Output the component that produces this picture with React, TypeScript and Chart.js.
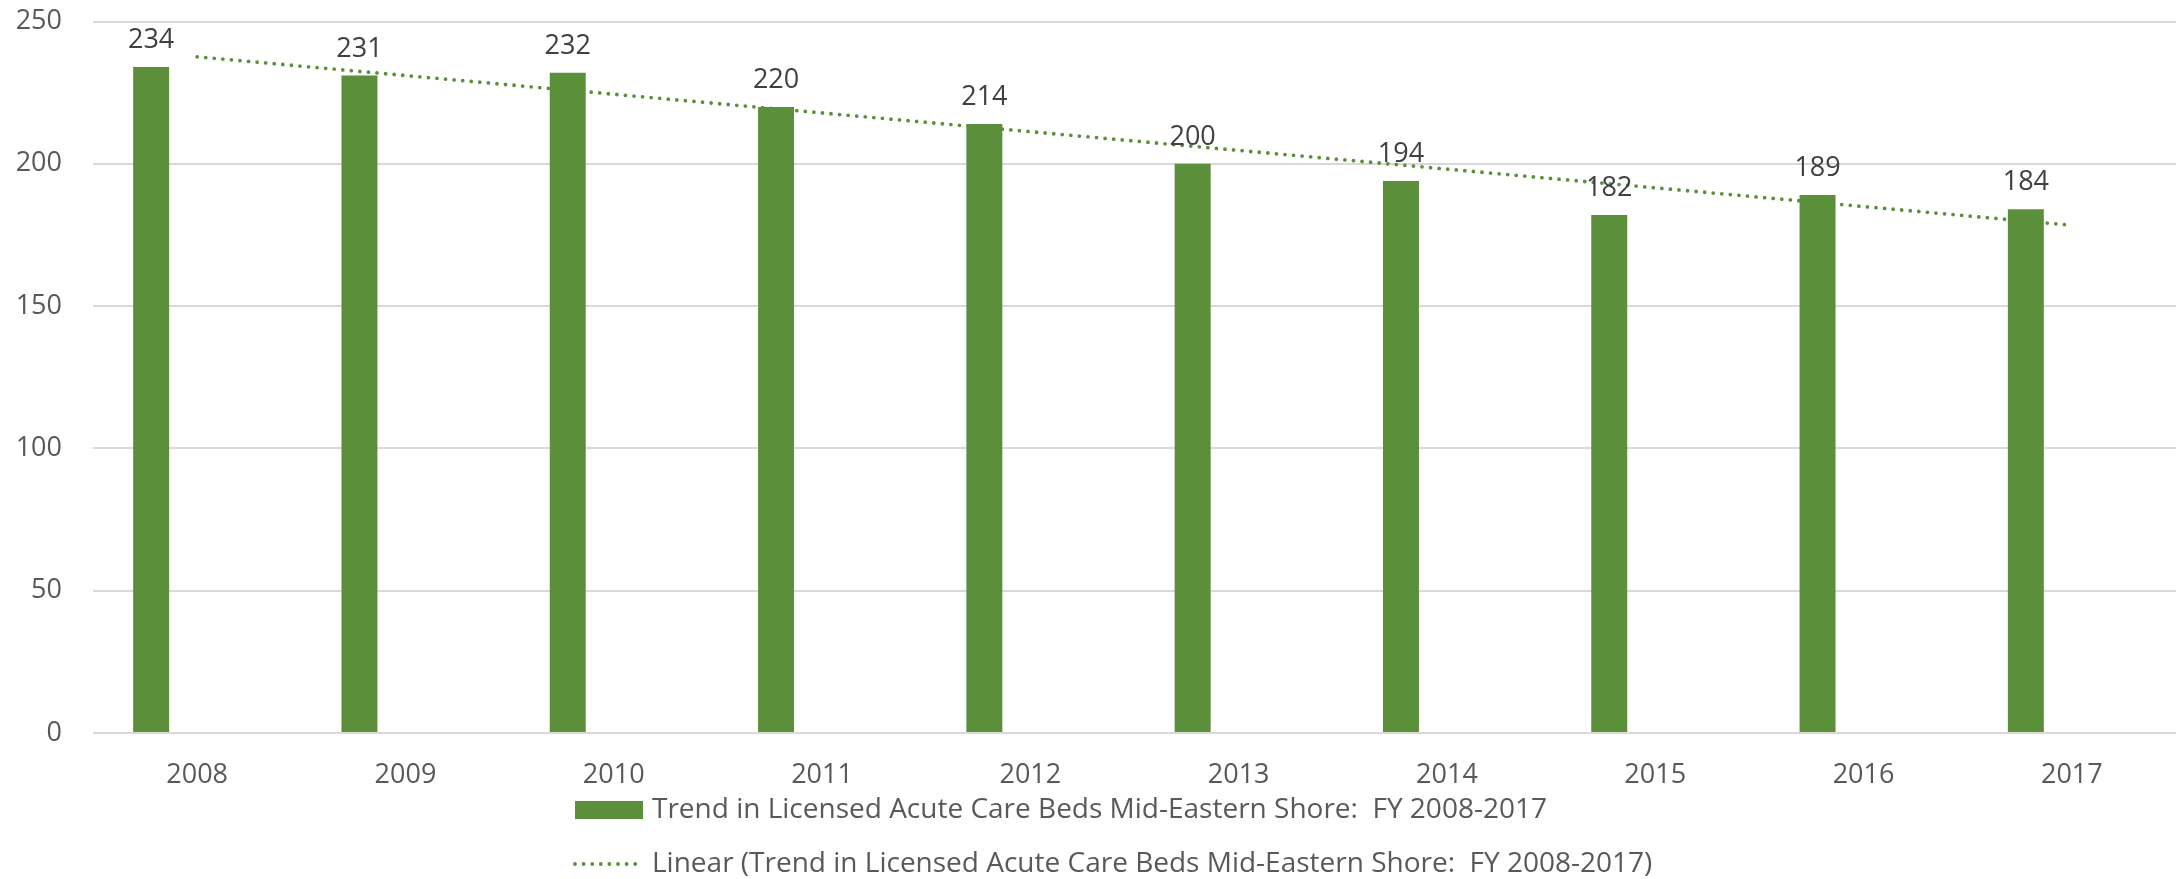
import React, { useEffect, useRef } from "react";
import { Chart, registerables } from "chart.js";

Chart.register(...registerables);

const categories = ["2008", "2009", "2010", "2011", "2012", "2013", "2014", "2015", "2016", "2017"];
const bedCounts = [234, 231, 232, 220, 214, 200, 194, 182, 189, 184];
// Linear trendline end values (first and last year)
const trendEnds = [237.6, 178.4];
const yTickValues = [0, 50, 100, 150, 200, 250];
const barLabel = "Trend in Licensed Acute Care Beds Mid-Eastern Shore:  FY 2008-2017";
const trendLabel = "Linear (Trend in Licensed Acute Care Beds Mid-Eastern Shore:  FY 2008-2017)";

const GREEN = "#5b8f3a";
const FONT = "'Open Sans', 'Noto Sans', sans-serif";

const trendData = categories.map((_, i) =>
  i === 0 ? trendEnds[0] : i === categories.length - 1 ? trendEnds[1] : null
);

const dataLabelPlugin = {
  id: "dataLabels",
  afterDatasetsDraw(chart: any) {
    const ctx = chart.ctx;
    const meta = chart.getDatasetMeta(0);
    ctx.save();
    ctx.font = `27px ${FONT}`;
    ctx.fillStyle = "#404040";
    ctx.textAlign = "center";
    ctx.textBaseline = "alphabetic";
    meta.data.forEach((el: any, i: number) => {
      ctx.fillText(String(bedCounts[i]), el.x, el.y - 19);
    });
    ctx.restore();
  },
};

const legendPlugin = {
  id: "customLegend",
  afterDraw(chart: any) {
    const ctx = chart.ctx;
    ctx.save();
    ctx.font = `28px ${FONT}`;
    ctx.textAlign = "left";
    ctx.textBaseline = "middle";
    // item 1: bar swatch
    ctx.fillStyle = GREEN;
    ctx.fillRect(575, 801, 68, 18);
    ctx.fillStyle = "#595959";
    ctx.fillText(barLabel, 652, 810);
    // item 2: dotted line
    ctx.strokeStyle = GREEN;
    ctx.lineWidth = 3.8;
    ctx.lineCap = "round";
    ctx.setLineDash([0, 8.6]);
    ctx.beginPath();
    ctx.moveTo(575, 864);
    ctx.lineTo(638, 864);
    ctx.stroke();
    ctx.setLineDash([]);
    ctx.fillText(trendLabel, 652, 864);
    ctx.restore();
  },
};

export default function App() {
  const canvasRef = useRef<HTMLCanvasElement | null>(null);

  useEffect(() => {
    document.body.style.margin = "0";
    const canvas = canvasRef.current;
    if (!canvas) return;
    const chart = new Chart(canvas, {
      type: "bar",
      data: {
        labels: categories,
        datasets: [
          {
            type: "bar",
            label: barLabel,
            data: bedCounts,
            backgroundColor: GREEN,
            borderWidth: 0,
            categoryPercentage: 0.8834,
            barPercentage: 0.391,
            order: 1,
          } as any,
          {
            type: "bar",
            label: "",
            data: categories.map(() => null),
            backgroundColor: "rgba(0,0,0,0)",
            categoryPercentage: 0.8834,
            barPercentage: 0.391,
            order: 1,
          } as any,
          {
            type: "line",
            label: trendLabel,
            data: trendData,
            borderColor: GREEN,
            borderWidth: 3.8,
            borderDash: [0, 8.6],
            borderCapStyle: "round",
            pointRadius: 0,
            pointHoverRadius: 0,
            spanGaps: true,
            fill: false,
            tension: 0,
            order: 2,
          } as any,
        ],
      },
      options: {
        responsive: false,
        animation: false,
        devicePixelRatio: 1,
        layout: { padding: { top: 21.5, right: 2, bottom: 88, left: 0 } },
        plugins: {
          legend: { display: false },
          tooltip: { enabled: false },
        },
        scales: {
          x: {
            grid: { display: false, drawTicks: false },
            border: { display: false },
            ticks: {
              color: "#595959",
              font: { family: FONT, size: 27 },
              padding: 26,
              maxRotation: 0,
              autoSkip: false,
            },
            afterFit(scale: any) {
              scale.height = 58;
              scale.paddingLeft = 0;
              scale.paddingRight = 0;
            },
          },
          y: {
            min: 0,
            max: 250,
            afterBuildTicks(scale: any) {
              scale.ticks = yTickValues.map((v) => ({ value: v }));
            },
            grid: { color: "#d9d9d9", lineWidth: 2, drawTicks: false },
            border: { display: false },
            ticks: {
              color: "#595959",
              font: { family: FONT, size: 27 },
              padding: 31,
            },
            afterFit(scale: any) {
              scale.width = 93;
              scale.paddingTop = 0;
              scale.paddingBottom = 0;
            },
          },
        },
      },
      plugins: [dataLabelPlugin, legendPlugin],
    });
    return () => chart.destroy();
  }, []);

  return (
    <div style={{ width: 2178, height: 879 }}>
      <canvas ref={canvasRef} width={2178} height={879} style={{ display: "block" }} />
    </div>
  );
}
